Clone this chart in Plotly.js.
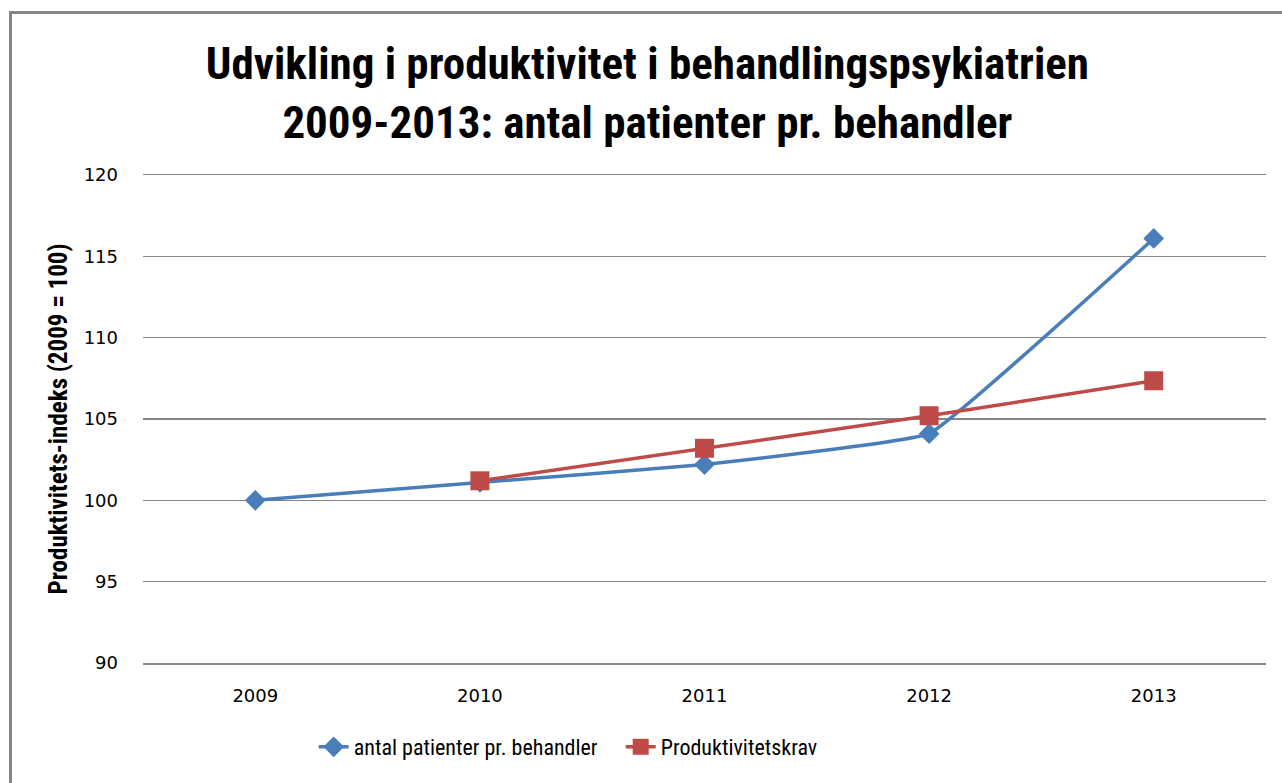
<!DOCTYPE html>
<html>
<head>
<meta charset="utf-8">
<script src="https://cdn.plot.ly/plotly-3.0.1.min.js"></script>
<style>
html,body{margin:0;padding:0;background:#fff;}
#wrap{position:relative;width:1282px;height:783px;overflow:hidden;}
#frame{position:absolute;left:9px;top:11px;width:1300px;height:800px;border-left:3px solid #868686;border-top:3px solid #868686;pointer-events:none;z-index:5;}
#chart{position:absolute;left:0;top:0;width:1282px;height:783px;}
</style>
</head>
<body>
<div id="wrap">
<div id="chart"></div>
<div id="frame"></div>
</div>
<script>
const years = ['2009', '2010', '2011', '2012', '2013'];
const patientsPerTherapist = [100, 101.1, 102.2, 104.1, 116.1];
const demandYears = ['2010', '2011', '2012', '2013'];
const productivityDemand = [101.2, 103.2, 105.2, 107.35];
const yTicks = [90, 95, 100, 105, 110, 115, 120];

const TICKFONT = '"DejaVu Sans", sans-serif';
const NARROW = '"Liberation Sans Narrow", "Roboto Condensed", "Liberation Sans", sans-serif';

const traces = [
  {
    type: 'scatter', mode: 'lines+markers',
    name: 'antal patienter pr. behandler',
    x: years, y: patientsPerTherapist,
    line: {color: '#4a7ebb', width: 3.5, shape: 'spline', smoothing: 0.25},
    marker: {symbol: 'diamond', size: 16, color: '#4a7ebb'}
  },
  {
    type: 'scatter', mode: 'lines+markers',
    name: 'Produktivitetskrav',
    x: demandYears, y: productivityDemand,
    line: {color: '#be4b48', width: 3.5},
    marker: {symbol: 'square', size: 19, color: '#be4b48'}
  }
];

const layout = {
  width: 1282, height: 783,
  paper_bgcolor: '#fff', plot_bgcolor: '#fff',
  margin: {l: 143, r: 16, t: 175, b: 120},
  title: {
    text: 'Udvikling i produktivitet i behandlingspsykiatrien<br>2009-2013: antal patienter pr. behandler',
    font: {family: NARROW, size: 45, color: '#000', weight: 'bold'},
    x: 0.505, xref: 'container', xanchor: 'center',
    y: 0.8985, yref: 'container', yanchor: 'middle'
  },
  xaxis: {
    type: 'category', categoryorder: 'array', categoryarray: years,
    range: [-0.5, 4.5],
    showgrid: false, zeroline: false,
    showline: true, mirror: true, linecolor: '#868686', linewidth: 1.5,
    ticks: '', ticklabelstandoff: 16,
    tickfont: {family: TICKFONT, size: 18, color: '#000'}
  },
  yaxis: {
    range: [90, 120], tickvals: yTicks,
    showgrid: true, gridcolor: '#868686', gridwidth: 1.5,
    zeroline: false, showline: false, ticks: '',
    ticklabelstandoff: 24,
    tickfont: {family: TICKFONT, size: 18, color: '#000'},
    title: {text: 'Produktivitets-indeks (2009 = 100)', font: {family: NARROW, size: 25, color: '#000', weight: 'bold'}, standoff: 8}
  },
  showlegend: true,
  legend: {
    orientation: 'h', x: 0.152, xanchor: 'left', xref: 'paper',
    y: 0.046, yref: 'container', yanchor: 'middle',
    font: {family: NARROW, size: 22, color: '#000'},
    entrywidth: 262, entrywidthmode: 'pixels', tracegroupgap: 0
  }
};

Plotly.newPlot('chart', traces, layout, {displayModeBar: false, staticPlot: true});
</script>
</body>
</html>
